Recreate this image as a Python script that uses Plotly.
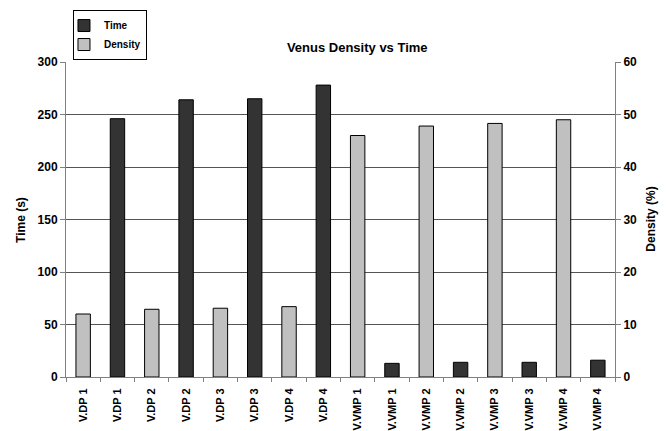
import plotly.graph_objects as go

categories = ["V.DP 1", "V.DP 1", "V.DP 2", "V.DP 2", "V.DP 3", "V.DP 3", "V.DP 4", "V.DP 4",
              "V.VMP 1", "V.VMP 1", "V.VMP 2", "V.VMP 2", "V.VMP 3", "V.VMP 3", "V.VMP 4", "V.VMP 4"]
density_idx = [0, 2, 4, 6, 8, 10, 12, 14]
time_idx = [1, 3, 5, 7, 9, 11, 13, 15]
time_values = [246, 264, 265, 278, 13, 14, 14, 16]
density_values = [12.0, 12.9, 13.1, 13.4, 46.0, 47.8, 48.3, 49.0]
left_ticks = [0, 50, 100, 150, 200, 250, 300]
right_ticks = [0, 10, 20, 30, 40, 50, 60]

font = "Liberation Sans, Arial, sans-serif"
bold = dict(family=font, size=11, color="#000000", weight="bold")
bold12 = dict(family=font, size=12, color="#000000", weight="bold")

fig = go.Figure()
fig.add_trace(go.Bar(x=time_idx, y=time_values, name="Time", yaxis="y",
                     marker=dict(color="#333333", line=dict(color="#000000", width=1)),
                     width=0.42))
fig.add_trace(go.Bar(x=density_idx, y=density_values, name="Density", yaxis="y2",
                     marker=dict(color="#c0c0c0", line=dict(color="#000000", width=1)),
                     width=0.42))

fig.update_layout(
    width=669, height=431,
    margin=dict(l=66, r=54, t=62, b=54, autoexpand=False),
    paper_bgcolor="white", plot_bgcolor="white",
    font=dict(family=font, size=11, color="#000000"),
    title=dict(text="Venus Density vs Time", x=0.534, xanchor="center",
               y=0.89, yanchor="middle", font=dict(family=font, size=13, weight="bold")),
    barmode="overlay",
    showlegend=True,
    legend=dict(x=0.0127, y=1.165, xanchor="left", yanchor="top",
                bordercolor="#000000", borderwidth=1, bgcolor="white",
                font=dict(family=font, size=10, weight="bold"), traceorder="normal",
                itemwidth=30, tracegroupgap=0, indentation=-10),
    xaxis=dict(range=[-0.5, 15.5], tickmode="array",
               tickvals=list(range(len(categories))),
               ticktext=categories,
               tickangle=-90, ticks="", showgrid=False, zeroline=False,
               showline=True, linecolor="#808080", linewidth=1,
               tickfont=bold, ticklabelstandoff=6, automargin=False,
               minor=dict(tickmode="array", tickvals=[i - 0.5 for i in range(len(categories) + 1)],
                          ticks="outside", ticklen=4, tickcolor="#808080", showgrid=False)),
    yaxis=dict(range=[0, 300], tickmode="array", tickvals=left_ticks,
               ticks="outside", ticklen=5, tickcolor="#808080", tickfont=bold12,
               showgrid=True, gridcolor="#555555", gridwidth=1, zeroline=False,
               showline=True, linecolor="#808080", linewidth=1, automargin=False),
    yaxis2=dict(range=[0, 60], tickmode="array", tickvals=right_ticks,
                overlaying="y", side="right", ticks="outside", ticklen=5, tickcolor="#808080",
                tickfont=bold12, showgrid=False, zeroline=False,
                showline=True, linecolor="#808080", linewidth=1, automargin=False),
    annotations=[
        dict(text="Time (s)", xref="paper", yref="paper", x=-0.083, y=0.5,
             xanchor="center", yanchor="middle", textangle=-90, showarrow=False,
             font=dict(family=font, size=12, weight="bold")),
        dict(text="Density (%)", xref="paper", yref="paper", x=1.064, y=0.5,
             xanchor="center", yanchor="middle", textangle=-90, showarrow=False,
             font=dict(family=font, size=12, weight="bold")),
    ],
)

fig.write_html("out.html", config={"displayModeBar": False},
               post_script="document.body.style.margin='0';")
